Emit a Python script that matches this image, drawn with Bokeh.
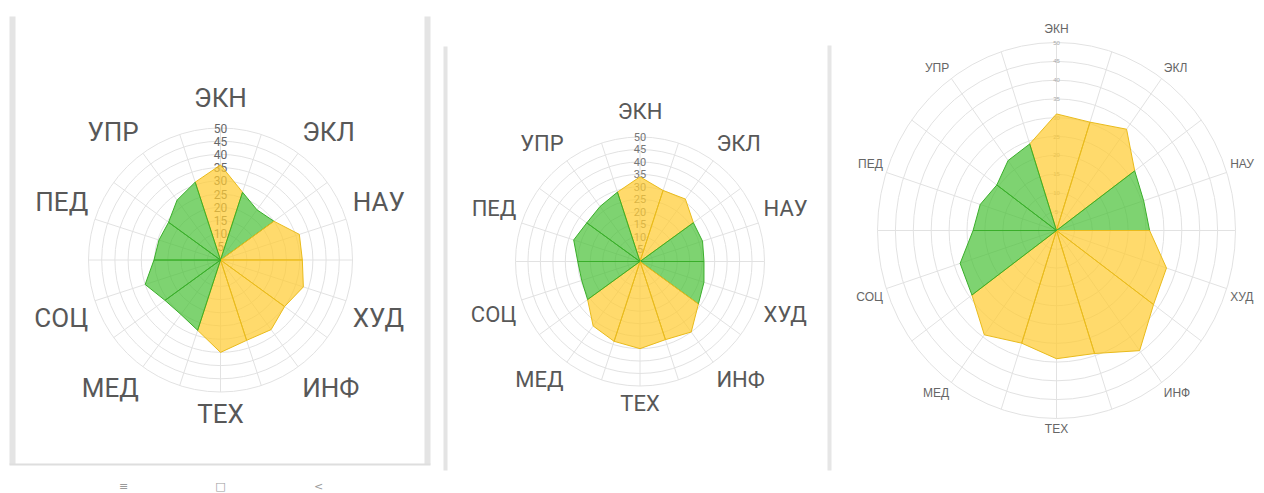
import math
from bokeh.plotting import figure
from bokeh.models import ColumnDataSource, Range1d, BoxAnnotation
from bokeh.core.properties import value
from bokeh.embed import file_html
from bokeh.resources import INLINE

# ---------------- data ----------------
categories = ["ЭКН", "ЭКЛ", "НАУ", "ХУД", "ИНФ", "ТЕХ", "МЕД", "СОЦ", "ПЕД", "УПР"]
ticks = [5, 10, 15, 20, 25, 30, 35, 40, 45, 50]

# outline radius at 20 spokes, starting at ЭКН (top) and going clockwise (every 18 degrees)
chart1_values = [36, 27, 23.5, 25, 31.4, 31, 33, 30, 32.6, 32,
                 35, 28, 25.5, 26, 30, 25.2, 24.5, 24.3, 28, 31]
chart2_values = [34, 30, 31, 26.5, 26.4, 25.7, 27, 29, 35, 33,
                 35, 33.7, 32, 26, 24.6, 25, 28, 26.4, 27.3, 29.3]
chart3_values = [31, 30.3, 33.3, 27, 25.6, 26, 32.3, 33.5, 39.5, 34.4,
                 34.1, 31.5, 34.3, 29.2, 28.3, 23.3, 22.4, 20.6, 23, 24.2]

# group of each category wedge: "Y" = yellow, "G" = green
chart1_groups = ["Y", "G", "Y", "Y", "Y", "Y", "G", "G", "G", "G"]
chart2_groups = ["Y", "Y", "G", "G", "Y", "Y", "Y", "G", "G", "G"]
chart3_groups = ["Y", "Y", "G", "Y", "Y", "Y", "Y", "G", "G", "G"]

nav_icons = ["≡", "□", "<"]

# ---------------- styles ----------------
FILL = {"Y": "#ffcc33", "G": "#4cc23a"}
LINE = {"Y": "#e9bb1c", "G": "#3aae2a"}
FILL_ALPHA = {"Y": 0.72, "G": 0.72}
GRID = "#e2e2e2"
W, H = 1264, 493

p = figure(width=W, height=H, x_range=Range1d(0, W), y_range=Range1d(H, 0),
           output_backend="svg", toolbar_location=None, min_border=0)
p.axis.visible = False
p.grid.visible = False
p.outline_line_color = None
p.background_fill_color = "white"
p.border_fill_color = "white"

# panel frames of the screenshots (page pixels)
for (bl, br, bt, bb, col) in [(9, 15, 16, 464, "#e4e4e4"), (424, 430, 16, 464, "#e4e4e4"),
                              (9, 430, 463, 465, "#dedede"),
                              (443, 447, 46, 470, "#e4e4e4"),
                              (827, 831, 45, 470, "#e6e6e6")]:
    p.add_layout(BoxAnnotation(left=bl, right=br, top=bt, bottom=bb,
                               fill_color=col, fill_alpha=1.0, line_color=None))

p.text(x=[123, 220, 318], y=[492, 492, 492], text=nav_icons,
       text_align="center", text_baseline="bottom",
       text_font=value("DejaVu Sans"), text_font_size="11px", text_color="#9a9a9a")


def spoke_angle(k):
    return math.radians(90 - 18 * k)


def add_chart(name, vals, groups, cx, cy, sx, sy,
              label_font, label_size, label_color, label_r, top_extra,
              tick_font, tick_size, tick_color):
    # a value-space range per chart, spanning the whole frame
    p.extra_x_ranges[name] = Range1d((0 - cx) / sx, (W - cx) / sx)
    p.extra_y_ranges[name] = Range1d((cy - H) / sy, (cy - 0) / sy)
    kw = dict(x_range_name=name, y_range_name=name)

    rmax = ticks[-1]
    p.ellipse(x=[0] * len(ticks), y=[0] * len(ticks),
              width=[2 * t for t in ticks], height=[2 * t for t in ticks],
              fill_color=None, line_color=GRID, line_width=1, **kw)
    n = len(vals)
    p.segment(x0=[0] * n, y0=[0] * n,
              x1=[rmax * math.cos(spoke_angle(k)) for k in range(n)],
              y1=[rmax * math.sin(spoke_angle(k)) for k in range(n)],
              line_color=GRID, line_width=1, **kw)
    p.text(x=[0] * len(ticks), y=ticks, text=[str(t) for t in ticks],
           text_align="center", text_baseline="middle",
           text_font=value(tick_font), text_font_size=f"{tick_size}px",
           text_color=tick_color, **kw)

    xs, ys, fc, lc, fa = [], [], [], [], []
    for c, g in enumerate(groups):
        idx = [(2 * c - 1) % n, 2 * c, (2 * c + 1) % n]
        xs.append([0.0] + [vals[k] * math.cos(spoke_angle(k)) for k in idx])
        ys.append([0.0] + [vals[k] * math.sin(spoke_angle(k)) for k in idx])
        fc.append(FILL[g])
        lc.append(LINE[g])
        fa.append(FILL_ALPHA[g])
    src = ColumnDataSource(dict(xs=xs, ys=ys, fc=fc, lc=lc, fa=fa))
    p.patches("xs", "ys", source=src, fill_color="fc", fill_alpha="fa",
              line_color="lc", line_width=1, **kw)

    lx, ly, la, lb = [], [], [], []
    for c in range(len(categories)):
        a = spoke_angle(2 * c)
        ca, sa = math.cos(a), math.sin(a)
        r = label_r + (top_extra if sa > 0.99 else 0)
        lx.append(r * ca)
        ly.append(r * sa)
        la.append("center" if abs(ca) < 0.05 else ("left" if ca > 0 else "right"))
        lb.append("bottom" if sa > 0.05 else ("top" if sa < -0.05 else "middle"))
    lsrc = ColumnDataSource(dict(x=lx, y=ly, t=categories, a=la, b=lb))
    p.text(x="x", y="y", text="t", source=lsrc, text_align="a", text_baseline="b",
           text_font=value(label_font), text_font_size=f"{label_size}px",
           text_color=label_color, **kw)


add_chart("c1", chart1_values, chart1_groups, cx=220, cy=259.5, sx=2.64, sy=2.64,
          label_font="Roboto", label_size=26, label_color="#585858", label_r=52.7, top_extra=2.8,
          tick_font="Roboto", tick_size=12, tick_color="#666666")
add_chart("c2", chart2_values, chart2_groups, cx=639.5, cy=261, sx=2.49, sy=2.49,
          label_font="Roboto", label_size=22, label_color="#585858", label_r=52.2, top_extra=3.2,
          tick_font="Roboto", tick_size=11, tick_color="#777777")
add_chart("c3", chart3_values, chart3_groups, cx=1056, cy=230, sx=3.58, sy=3.76,
          label_font="Liberation Sans", label_size=12, label_color="#666666", label_r=51, top_extra=0.8,
          tick_font="Liberation Sans", tick_size=6, tick_color="#aaaaaa")

open("out.html", "w").write(file_html(p, INLINE))
